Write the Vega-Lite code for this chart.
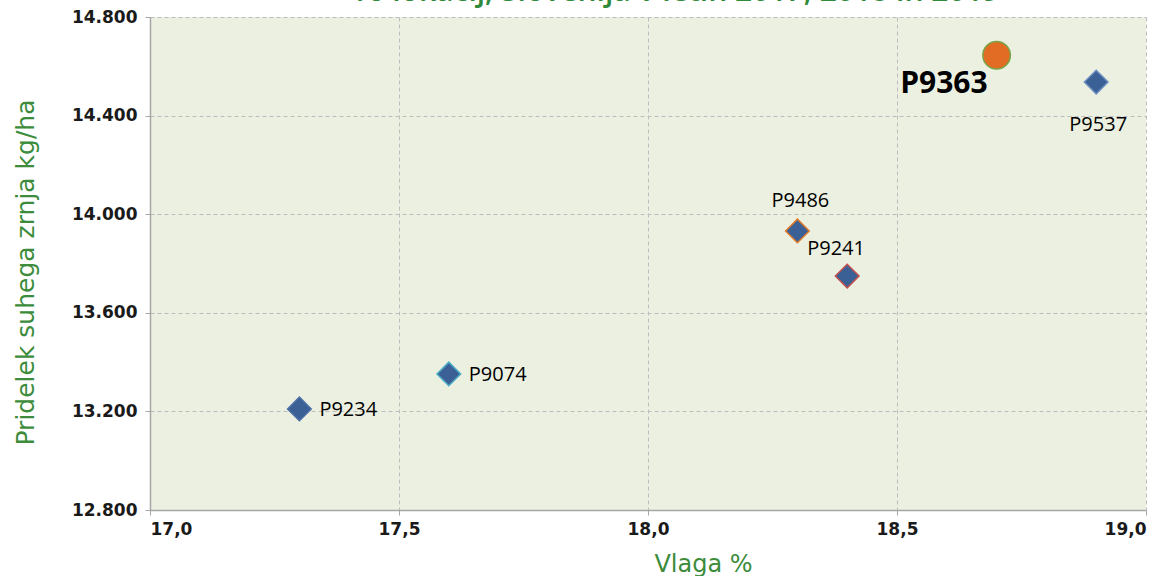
{
  "$schema": "https://vega.github.io/schema/vega-lite/v6.json",
  "width": 996,
  "height": 493,
  "autosize": {"type": "none"},
  "padding": {"left": 150, "top": 17, "right": 15, "bottom": 66},
  "background": "#ffffff",
  "title": {
    "text": "16 lokacij, Slovenija v letih 2017, 2018 in 2019",
    "font": "Open Sans",
    "fontSize": 30,
    "fontWeight": 600,
    "color": "#2f8a3a",
    "anchor": "middle",
    "frame": "group",
    "baseline": "alphabetic",
    "offset": 0,
    "dy": 23,
    "dx": 27
  },
  "data": {
    "values": [
      {"name": "P9363", "vlaga": 18.70, "pridelek": 14645},
      {"name": "P9537", "vlaga": 18.90, "pridelek": 14536},
      {"name": "P9486", "vlaga": 18.30, "pridelek": 13932},
      {"name": "P9241", "vlaga": 18.40, "pridelek": 13749},
      {"name": "P9074", "vlaga": 17.60, "pridelek": 13352},
      {"name": "P9234", "vlaga": 17.30, "pridelek": 13210}
    ]
  },
  "encoding": {
    "x": {
      "field": "vlaga", "type": "quantitative", "title": "Vlaga %",
      "scale": {"domain": [17, 19], "nice": false, "zero": false},
      "axis": {"values": [17, 17.5, 18, 18.5, 19], "format": ".1f", "titleX": 553, "titleAlign": "center"}
    },
    "y": {
      "field": "pridelek", "type": "quantitative", "title": "Pridelek suhega zrnja kg/ha",
      "scale": {"domain": [12800, 14800], "nice": false, "zero": false},
      "axis": {"values": [12800, 13200, 13600, 14000, 14400, 14800], "format": ",.0f", "titleY": 255, "titleAlign": "center"}
    }
  },
  "layer": [
    {
      "transform": [{"filter": "datum.name != 'P9363'"}],
      "mark": {"type": "point", "shape": "diamond", "filled": true, "fill": "#3b6096", "size": 560, "strokeWidth": 1.5, "opacity": 1},
      "encoding": {
        "stroke": {
          "field": "name", "type": "nominal", "legend": null,
          "scale": {"domain": ["P9537", "P9486", "P9241", "P9074", "P9234"], "range": ["#6f8fc0", "#e07a2a", "#c0504d", "#4bacc6", "#4f6fa6"]}
        }
      }
    },
    {
      "transform": [{"filter": "datum.name == 'P9363'"}],
      "mark": {"type": "point", "shape": "circle", "filled": true, "fill": "#e36c24", "stroke": "#77a648", "strokeWidth": 1.5, "size": 760, "opacity": 1}
    },
    {
      "transform": [{"filter": "datum.name == 'P9363'"}],
      "mark": {"type": "text", "align": "right", "baseline": "middle", "dx": -9, "dy": 29, "font": "Open Sans", "fontSize": 30, "fontWeight": "bold", "color": "#000000"},
      "encoding": {"text": {"field": "name"}}
    },
    {
      "transform": [{"filter": "datum.name == 'P9537'"}],
      "mark": {"type": "text", "align": "center", "baseline": "middle", "dx": 2, "dy": 43, "font": "Open Sans", "fontSize": 20, "color": "#000000"},
      "encoding": {"text": {"field": "name"}}
    },
    {
      "transform": [{"filter": "datum.name == 'P9486'"}],
      "mark": {"type": "text", "align": "center", "baseline": "middle", "dx": 3, "dy": -30, "font": "Open Sans", "fontSize": 20, "color": "#000000"},
      "encoding": {"text": {"field": "name"}}
    },
    {
      "transform": [{"filter": "datum.name == 'P9241'"}],
      "mark": {"type": "text", "align": "left", "baseline": "middle", "dx": -40, "dy": -27, "font": "Open Sans", "fontSize": 20, "color": "#000000"},
      "encoding": {"text": {"field": "name"}}
    },
    {
      "transform": [{"filter": "datum.name == 'P9074' || datum.name == 'P9234'"}],
      "mark": {"type": "text", "align": "left", "baseline": "middle", "dx": 20, "dy": 1, "font": "Open Sans", "fontSize": 20, "color": "#000000"},
      "encoding": {"text": {"field": "name"}}
    }
  ],
  "config": {
    "locale": {
      "number": {"decimal": ",", "thousands": ".", "grouping": [3], "currency": ["", " €"]}
    },
    "view": {"fill": "#ecf0e1", "stroke": null},
    "axis": {
      "grid": true,
      "gridColor": "#bdbdbd",
      "gridDash": [4, 3],
      "gridWidth": 1,
      "domainColor": "#a6a6a6",
      "domainWidth": 1.5,
      "tickColor": "#a6a6a6",
      "tickSize": 5,
      "tickWidth": 1,
      "labelFont": "DejaVu Sans",
      "labelFontWeight": "bold",
      "labelFontSize": 17,
      "labelColor": "#1a1a1a",
      "titleFont": "DejaVu Sans",
      "titleFontWeight": "normal",
      "titleFontSize": 24,
      "titleColor": "#3c8c3c"
    },
    "axisX": {"labelPadding": 6, "titlePadding": 15},
    "axisY": {"labelPadding": 8, "titlePadding": 33, "titleFontSize": 25}
  }
}
